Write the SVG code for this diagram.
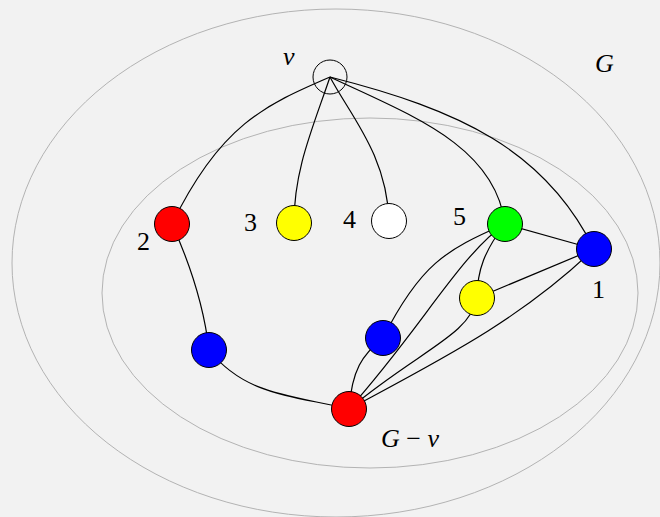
<svg xmlns="http://www.w3.org/2000/svg" width="660" height="517" viewBox="0 0 660 517">
<style>
.reg{fill:none;stroke:#b3b3b3;stroke-width:1}
.e{fill:none;stroke:#000;stroke-width:1.2}
.n{stroke:#000;stroke-width:1}
.t{font-family:"Liberation Serif","DejaVu Serif",serif;font-size:26px;fill:#000}
.i{font-style:italic}
</style>
<rect width="660" height="517" fill="#f2f2f2"/>
<g id="regions">
<ellipse class="reg" cx="336" cy="263" rx="324" ry="254"/>
<ellipse class="reg" cx="370" cy="293" rx="268" ry="175"/>
</g>
<g id="connectors">
<path class="e" d="M330,77 C265,105 220,125 172,224"/>
<path class="e" d="M330,77 C312,130 294,170 294,223"/>
<path class="e" d="M330,77 C350,115 387,155 389,221"/>
<path class="e" d="M330,77 C410,115 495,145 505,224"/>
<path class="e" d="M330,77 C460,110 545,150 594,249"/>
<path class="e" d="M505,224 L594,249"/>
<path class="e" d="M477,298 L594,249"/>
<path class="e" d="M172,224 C195,275 205,315 209,350"/>
<path class="e" d="M209,350 C245,395 290,395 349,409"/>
<path class="e" d="M349,409 C352,370 362,355 383,338"/>
<path class="e" d="M505,224 C445,250 420,265 383,338"/>
<path class="e" d="M505,224 C460,255 420,330 349,409"/>
<path class="e" d="M505,224 C485,250 477,270 477,298"/>
<path class="e" d="M477,298 C470,335 420,350 349,409"/>
<path class="e" d="M594,249 C520,320 440,360 349,409"/>
</g>
<g id="node-v"><circle class="n" cx="330" cy="77" r="17" fill="none"/></g>
<g id="node-2"><circle class="n" cx="172" cy="224" r="17.5" fill="#ff0000"/></g>
<g id="node-3"><circle class="n" cx="294" cy="223" r="17.5" fill="#ffff00"/></g>
<g id="node-4"><circle class="n" cx="389" cy="221" r="17.5" fill="#ffffff"/></g>
<g id="node-5"><circle class="n" cx="505" cy="224" r="17.5" fill="#00ff00"/></g>
<g id="node-1"><circle class="n" cx="594" cy="249" r="17.5" fill="#0000ff"/></g>
<g id="node-y2"><circle class="n" cx="477" cy="298" r="17.5" fill="#ffff00"/></g>
<g id="node-b2"><circle class="n" cx="383" cy="338" r="17.5" fill="#0000ff"/></g>
<g id="node-b3"><circle class="n" cx="209" cy="350" r="17.5" fill="#0000ff"/></g>
<g id="node-r2"><circle class="n" cx="349" cy="409" r="17.5" fill="#ff0000"/></g>
<g id="labels">
<text class="t i" x="283" y="65">v</text>
<text class="t i" x="595" y="72">G</text>
<text class="t" x="137" y="250">2</text>
<text class="t" x="244" y="231">3</text>
<text class="t" x="343" y="228">4</text>
<text class="t" x="453" y="225">5</text>
<text class="t" x="592" y="298">1</text>
<text class="t" x="381" y="447"><tspan class="i">G</tspan> − <tspan class="i">v</tspan></text>
</g>
</svg>
